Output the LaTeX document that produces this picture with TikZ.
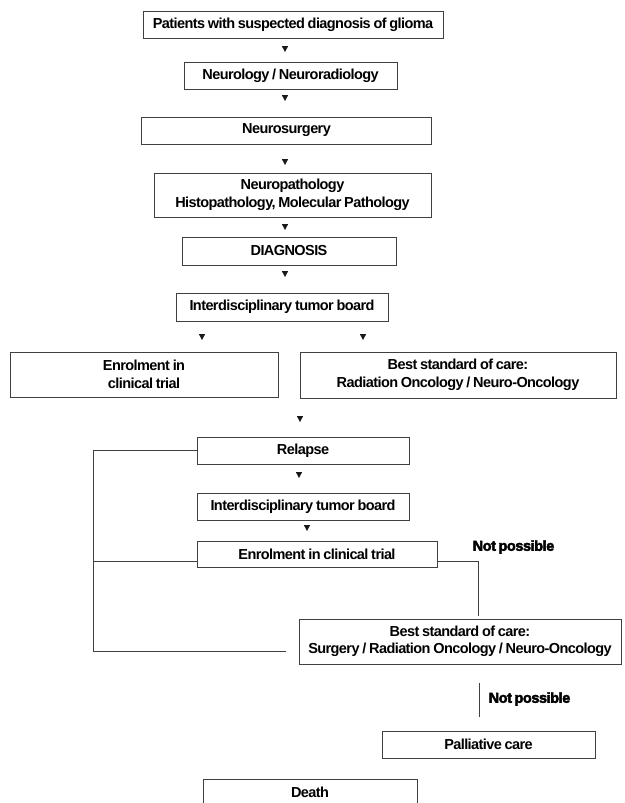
\documentclass[tikz,border=0pt]{standalone}
\usepackage{fontspec}
\setmainfont{Liberation Sans}
\newfontfamily\boxfont{Liberation Sans Bold}[LetterSpace=-4, WordSpace=0.8]
\newfontfamily\npfont{Liberation Sans Bold}[FakeBold=3, LetterSpace=-3, WordSpace=0.7]
\begin{document}
\begin{tikzpicture}[x=1pt,y=-1pt,
  box/.style={draw=black!75, line width=0.9pt, inner sep=0pt, align=center,
    font=\boxfont\fontsize{14.5}{17.5}\selectfont},
  conn/.style={draw=black!75, line width=0.9pt},
  np/.style={inner sep=0pt, font=\npfont\fontsize{14.5}{17.5}\selectfont},
  tri/.pic={\fill[black!90] (-3.2,-3) -- (3.2,-3) -- (0,3) -- cycle;}]
\useasboundingbox (0,0) rectangle (624,803);
\fill[white] (0,0) rectangle (624,803);

% main column
\node[box, minimum width=300pt, minimum height=27pt] (p1) at (293,24.5) {Patients with suspected diagnosis of glioma};
\node[box, minimum width=213pt, minimum height=27pt] (p2) at (290.5,75.5) {Neurology / Neuroradiology};
\node[box, minimum width=290pt, minimum height=27pt] (p3) at (286.5,130.5) {Neurosurgery};
\node[box, minimum width=277pt, minimum height=44pt] (p4) at (292.5,195) {Neuropathology\\Histopathology, Molecular Pathology};
\node[box, minimum width=214pt, minimum height=28pt] (p5) at (289,251) {DIAGNOSIS};
\node[box, minimum width=212pt, minimum height=28pt] (p6) at (282,307) {Interdisciplinary tumor board};
\node[box, minimum width=268pt, minimum height=45pt] (p7) at (144,374.5) {Enrolment in\\clinical trial};
\node[box, minimum width=316pt, minimum height=46pt] (p8) at (458,375) {Best standard of care:\\Radiation Oncology / Neuro-Oncology};
\node[box, minimum width=212pt, minimum height=27pt] (p9) at (303,450.5) {Relapse};
\node[box, minimum width=212pt, minimum height=27pt] (p10) at (303,506.5) {Interdisciplinary tumor board};
\node[box, minimum width=240pt, minimum height=26pt] (p11) at (317,554) {Enrolment in clinical trial};
\node[box, minimum width=322pt, minimum height=45pt] (p12) at (460,641.5) {Best standard of care:\\Surgery / Radiation Oncology / Neuro-Oncology};
\node[box, minimum width=213pt, minimum height=27pt] (p13) at (488.5,744.5) {Palliative care};
\node[box, minimum width=214pt, minimum height=27pt] (p14) at (310,792.5) {Death};

% labels
\node[np] (np1) at (513.5,547) {Not possible};
\node[np] (np2) at (529.5,699) {Not possible};

% small down-pointing markers
\pic at (285,49) {tri};
\pic at (285,98) {tri};
\pic at (285,162) {tri};
\pic at (285,227) {tri};
\pic at (285,274) {tri};
\pic at (202,337) {tri};
\pic at (363,337) {tri};
\pic at (300,419) {tri};
\pic at (299,475) {tri};
\pic at (307,528) {tri};

% connectors
\coordinate (lx) at (93,0);
\coordinate (lb) at (93,651);
\coordinate (be) at (286,651);
\coordinate (rt) at (478,616);
\coordinate (n1) at (479,683);
\coordinate (n2) at (479,717);
\draw[conn] (p9.west) -- (p9.west -| lx) -- (lb) -- (be);
\draw[conn] ([yshift=-7.5pt]p11.west) -- ([yshift=-7.5pt]p11.west -| lx);
\draw[conn] ([yshift=-7.5pt]p11.east) -| (rt);
\draw[conn] (n1) -- (n2);
\end{tikzpicture}
\end{document}
